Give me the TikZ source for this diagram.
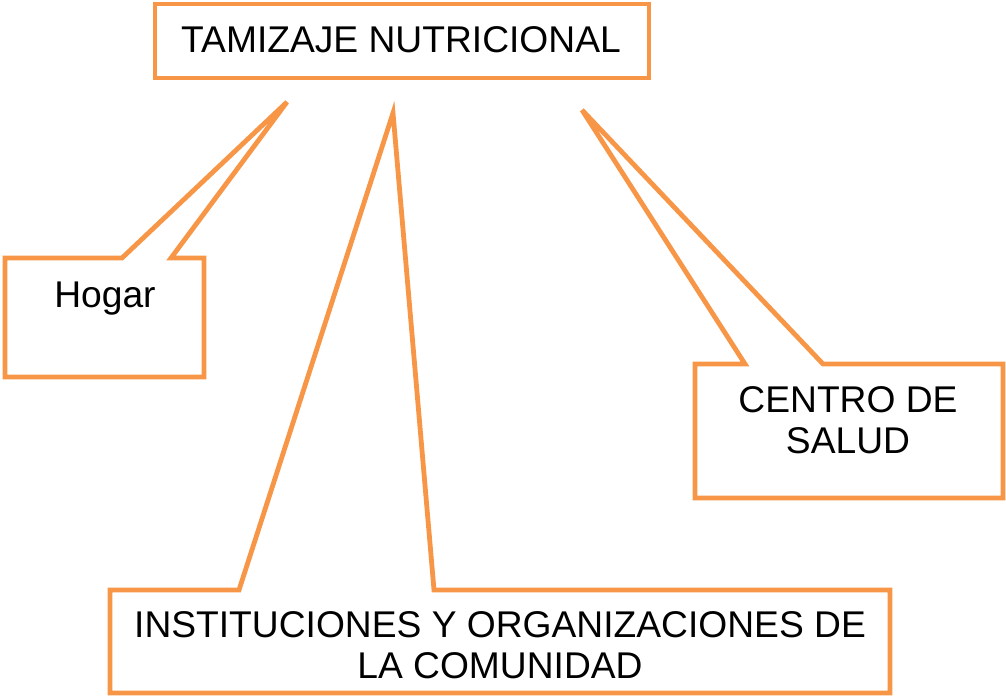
\documentclass[tikz,border=0pt]{standalone}
\usepackage{fontspec}
\setmainfont{Liberation Sans}
\definecolor{calloutorange}{HTML}{F79646}
\begin{document}
\begin{tikzpicture}[x=0.5pt,y=-0.5pt,
  boxline/.style={draw=calloutorange,line width=2.4pt,line join=miter},
  label/.style={font=\fontsize{18.6pt}{20.5pt}\selectfont,align=center,anchor=base,inner sep=0pt,text=black}]
\useasboundingbox (0,0) rectangle (1006,696);
% title box
\node[boxline,minimum width=247pt,minimum height=37pt,inner sep=0pt] (title) at (402,41) {};
\node[label] (titletext) at (401,52) {TAMIZAJE NUTRICIONAL};
% Hogar callout
\draw[boxline] (5,258) -- (122,258) -- (287,102) -- (171,258) -- (204,258) -- (204,377) -- (5,377) -- cycle;
\node[label] (hogar) at (105,307) {Hogar};
% Centro de salud callout
\draw[boxline] (695,364) -- (745,364) -- (582,110) -- (823,364) -- (1003,364) -- (1003,498) -- (695,498) -- cycle;
\node[label] (centro) at (848,453) {CENTRO DE\\SALUD};
% Instituciones callout
\draw[boxline] (110,590) -- (239,590) -- (393,113) -- (434,590) -- (890,590) -- (890,693) -- (110,693) -- cycle;
\node[label] (inst) at (500,678) {INSTITUCIONES Y ORGANIZACIONES DE\\LA COMUNIDAD};
\end{tikzpicture}
\end{document}
